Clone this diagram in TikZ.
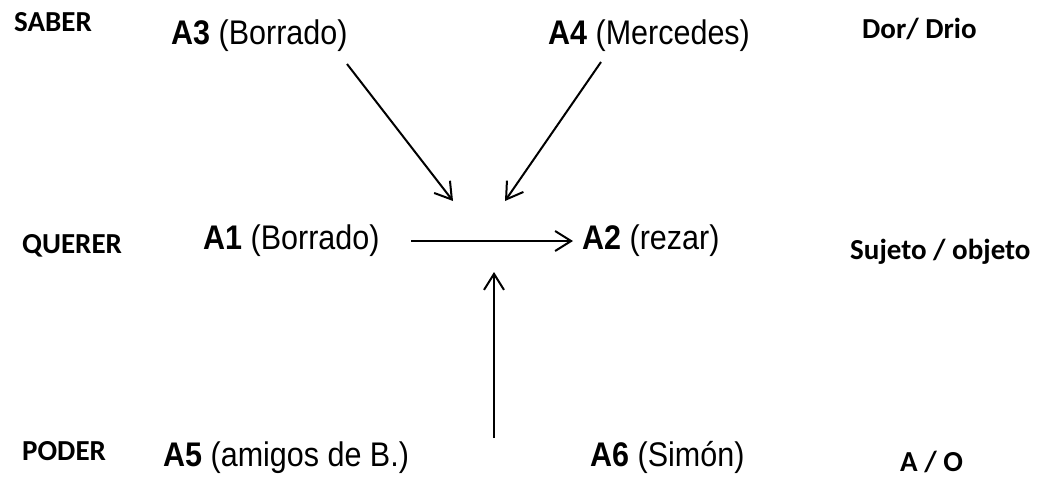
\documentclass[tikz,border=0pt]{standalone}
\usepackage{fontspec}
\setmainfont{Liberation Sans}
\newfontfamily\calib{Carlito}
\usetikzlibrary{arrows.meta}
\newcommand{\tallish}[1]{\scalebox{1}[1.12]{#1}}
\begin{document}
\begin{tikzpicture}[x=1pt,y=-1pt,
  lab/.style={anchor=base west, inner sep=0pt, font=\fontsize{30.5}{34}\selectfont},
  side/.style={anchor=base west, inner sep=0pt, font=\calib\bfseries\fontsize{29}{32}\selectfont},
  arr/.style={line width=2pt, -{Straight Barb[length=16pt,width=20pt,line width=2pt]}}]
\useasboundingbox (0,0) rectangle (1046,477);
% side labels
\node[side] (saber) at (14,31) {SABER};
\node[side] (querer) at (22,253) {QUERER};
\node[side] (poder) at (22,460) {PODER};
\node[side] (dor) at (862,38) {Dor/ Drio};
\node[side] (suj) at (850,259) {Sujeto / objeto};
\node[side] (ao) at (900,471) {A / O};
% actants
\node[lab] (a3) at (171,44) {\tallish{\textbf{A3} (Borrado)}};
\node[lab] (a4) at (548,44) {\tallish{\textbf{A4} (Mercedes)}};
\node[lab] (a1) at (203,249) {\tallish{\textbf{A1} (Borrado)}};
\node[lab] (a2) at (582,249) {\tallish{\textbf{A2} (rezar)}};
\node[lab] (a5) at (163,466) {\tallish{\textbf{A5} (amigos de B.)}};
\node[lab] (a6) at (590,466) {\tallish{\textbf{A6} (Simón)}};
% connector ends
\coordinate (s3) at (347,64);
\coordinate (e3) at (453,201);
\coordinate (s4) at (601,62);
\coordinate (e4) at (505,201);
\coordinate (s1) at (411,241);
\coordinate (e1) at (573,241);
\coordinate (s5) at (494,438);
\coordinate (e5) at (494,272);
\draw[arr] (s3) -- (e3);
\draw[arr] (s4) -- (e4);
\draw[arr] (s1) -- (e1);
\draw[arr] (s5) -- (e5);
\end{tikzpicture}
\end{document}
